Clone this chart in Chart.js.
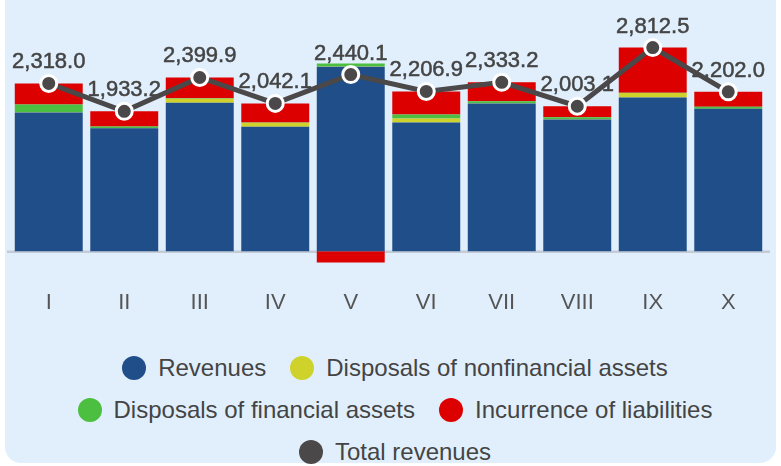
<!DOCTYPE html>
<html>
<head>
<meta charset="utf-8">
<script src="https://cdn.jsdelivr.net/npm/chart.js@4/dist/chart.umd.min.js"></script>
<style>
  body { margin: 0; background: #fff; width: 781px; height: 466px; overflow: hidden; position: relative; font-family: "Liberation Sans", Arial, sans-serif; }
  #panel { position: absolute; left: 5px; top: -20px; width: 771px; height: 483px; background: #e1effc; border-radius: 16px; }
  #wrap { position: absolute; left: 0; top: 0; width: 781px; height: 330px; }
  #legend { position: absolute; left: 0; top: 347px; width: 781px; }
  .row { display: flex; justify-content: center; height: 42px; align-items: center; padding-left: 9px; }
  .item { display: flex; align-items: center; margin: 0 12px; font-size: 24px; color: #444; }
  .dot { width: 24px; height: 24px; border-radius: 50%; margin-right: 12px; }
</style>
</head>
<body>
<div id="panel"></div>
<div id="wrap"><canvas id="chart"></canvas></div>
<div id="legend"></div>
<script>
// months (Roman numerals)
const categories = ["I", "II", "III", "IV", "V", "VI", "VII", "VIII", "IX", "X"];

// components
const revenues = [1917, 1698, 2050, 1720, 2548, 1780, 2042, 1820, 2125, 1968];
const nonfinancialDisposals = [3, 2, 58, 55, 5, 55, 3, 2, 60, 2];
const financialDisposals = [108, 25, 5, 3, 40, 55, 28, 28, 3, 25];
const liabilities = [290, 208.2, 286.9, 264.1, -152.9, 316.9, 260.2, 153.1, 624.5, 207];

// totals shown as labels
const totalRevenues = [2318.0, 1933.2, 2399.9, 2042.1, 2440.1, 2206.9, 2333.2, 2003.1, 2812.5, 2202.0];

const colors = {
  revenues: "#1f4e89",
  nonfinancial: "#cfd22a",
  financial: "#4cbf40",
  liabilities: "#dd0000",
  total: "#4a4849"
};

const fmt = v => v.toLocaleString("en-US", { minimumFractionDigits: 1, maximumFractionDigits: 1 });

// draw the value labels before the line so the line goes over them
const totalLabels = {
  id: "totalLabels",
  afterDatasetDraw(chart, args) {
    if (args.index !== 1) return;
    const meta = chart.getDatasetMeta(0);
    const ctx = chart.ctx;
    ctx.save();
    ctx.font = "22px 'Liberation Sans', Arial, sans-serif";
    ctx.fillStyle = "#444";
    ctx.strokeStyle = "#444";
    ctx.lineWidth = 0.5;
    ctx.textAlign = "center";
    ctx.textBaseline = "alphabetic";
    meta.data.forEach((pt, i) => {
      const txt = fmt(totalRevenues[i]);
      ctx.fillText(txt, pt.x, pt.y - 15);
      ctx.strokeText(txt, pt.x, pt.y - 15);
    });
    ctx.restore();
  }
};

// grey zero line, a bit wider than the plot
const zeroLine = {
  id: "zeroLine",
  beforeDatasetsDraw(chart) {
    const y = chart.scales.y.getPixelForValue(0);
    const { left, right } = chart.chartArea;
    const ctx = chart.ctx;
    ctx.save();
    ctx.strokeStyle = "#c3cbd6";
    ctx.lineWidth = 2.5;
    ctx.beginPath();
    ctx.moveTo(left - 4, y + 0.5);
    ctx.lineTo(right + 4, y + 0.5);
    ctx.stroke();
    ctx.restore();
  }
};

const chart = new Chart(document.getElementById("chart"), {
  type: "bar",
  data: {
    labels: categories,
    datasets: [
      {
        type: "line",
        label: "Total revenues",
        data: totalRevenues,
        borderColor: colors.total,
        backgroundColor: colors.total,
        borderWidth: 5,
        pointRadius: 8,
        pointBorderWidth: 3,
        pointBorderColor: "#ffffff",
        pointBackgroundColor: colors.total,
        order: 0
      },
      { label: "Revenues", data: revenues, backgroundColor: colors.revenues, order: 1 },
      { label: "Disposals of nonfinancial assets", data: nonfinancialDisposals, backgroundColor: colors.nonfinancial, order: 1 },
      { label: "Disposals of financial assets", data: financialDisposals, backgroundColor: colors.financial, order: 1 },
      { label: "Incurrence of liabilities", data: liabilities, backgroundColor: colors.liabilities, order: 1 }
    ]
  },
  options: {
    responsive: true,
    maintainAspectRatio: false,
    animation: false,
    datasets: { bar: { barPercentage: 0.9, categoryPercentage: 1.0 } },
    layout: { padding: { left: 11, right: 15, top: 34, bottom: 12 } },
    scales: {
      x: {
        stacked: true,
        grid: { display: false, drawTicks: false },
        border: { display: false },
        ticks: { color: "#555", font: { size: 22, family: "'Liberation Sans', Arial, sans-serif" }, padding: 2 }
      },
      y: {
        stacked: true,
        display: false,
        min: -500,
        max: 3000
      }
    },
    plugins: {
      legend: { display: false },
      tooltip: { enabled: false }
    }
  },
  plugins: [zeroLine, totalLabels]
});

// html legend, 2 + 2 + 1 rows like the original
const legendRows = [[1, 2], [3, 4], [0]];
const legendEl = document.getElementById("legend");
legendRows.forEach(row => {
  const r = document.createElement("div");
  r.className = "row";
  row.forEach(i => {
    const ds = chart.data.datasets[i];
    const it = document.createElement("div");
    it.className = "item";
    const dot = document.createElement("span");
    dot.className = "dot";
    dot.style.background = ds.backgroundColor;
    it.appendChild(dot);
    it.appendChild(document.createTextNode(ds.label));
    r.appendChild(it);
  });
  legendEl.appendChild(r);
});
</script>
</body>
</html>
